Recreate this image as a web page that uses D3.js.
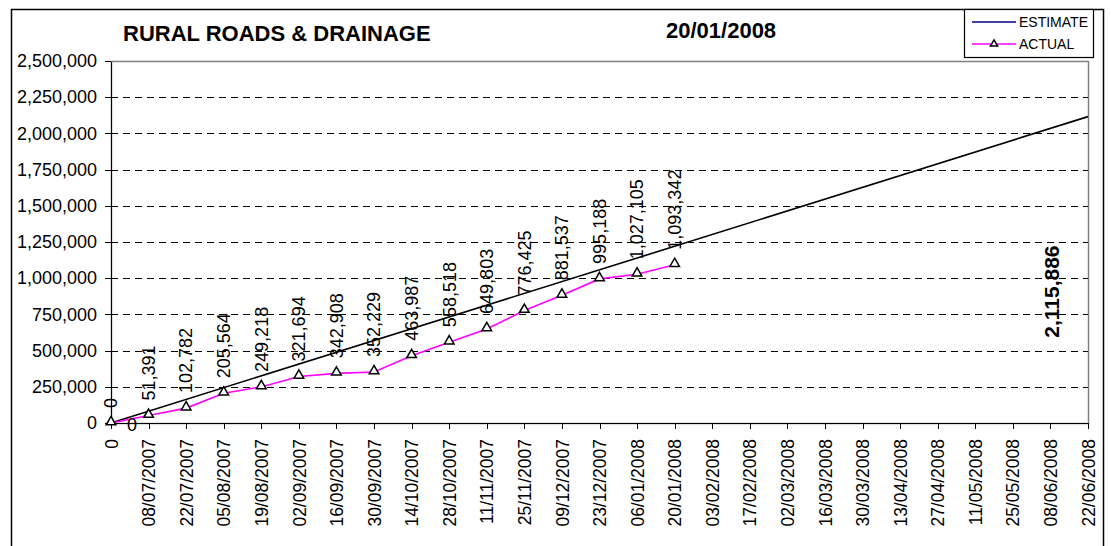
<!DOCTYPE html>
<meta charset="utf-8">
<style>
  body { margin: 0; background: #fff; }
  svg text { font-family: "Liberation Sans", Arial, sans-serif; fill: #000; }
  .axis path, .axis line { stroke: #000; shape-rendering: crispEdges; }
</style>
<div class="chart"></div>
<script src="https://cdn.jsdelivr.net/npm/d3@7/dist/d3.min.js"></script>
<script>
  // category labels along the x axis (fortnightly dates)
  var dates = ["0","08/07/2007","22/07/2007","05/08/2007","19/08/2007","02/09/2007","16/09/2007",
    "30/09/2007","14/10/2007","28/10/2007","11/11/2007","25/11/2007","09/12/2007","23/12/2007",
    "06/01/2008","20/01/2008","03/02/2008","17/02/2008","02/03/2008","16/03/2008","30/03/2008",
    "13/04/2008","27/04/2008","11/05/2008","25/05/2008","08/06/2008","22/06/2008"];

  // actual cumulative spend, one per date up to 20/01/2008
  var actual = [0, 51391, 102782, 205564, 249218, 321694, 342908, 352229, 463987,
    558518, 649803, 776425, 881537, 995188, 1027105, 1093342];

  // estimate: straight line from first to last date
  var estimateDates = ["0", "22/06/2008"];
  var estimate = [0, 2115886];

  var yTicks = [0, 250000, 500000, 750000, 1000000, 1250000, 1500000, 1750000, 2000000, 2250000, 2500000];

  var W = 1111, H = 546;
  var plot = {left: 111, right: 1088, top: 61, bottom: 423};
  var fmt = d3.format(",");

  var svg = d3.select(".chart").append("svg")
    .attr("width", W).attr("height", H);

  svg.append("rect").attr("width", W).attr("height", H).attr("fill", "#fff");

  // outer chart frame
  svg.append("rect")
    .attr("x", 11.5).attr("y", 9.5)
    .attr("width", 1103 - 11).attr("height", 600)
    .attr("fill", "none").attr("stroke", "#000").attr("stroke-width", 1.5);

  var x = d3.scalePoint().domain(dates).range([plot.left, plot.right]);
  var y = d3.scaleLinear().domain([0, 2500000]).range([plot.bottom, plot.top]);

  // plot area border (grey)
  svg.append("rect")
    .attr("x", plot.left + 0.5).attr("y", plot.top + 0.5)
    .attr("width", plot.right - plot.left).attr("height", plot.bottom - plot.top)
    .attr("fill", "none").attr("stroke", "#808080").attr("stroke-width", 1.5);

  // dashed gridlines
  svg.append("g").selectAll("line")
    .data(yTicks.filter(function(d){ return d > 0 && d < 2500000; }))
    .enter().append("line")
    .attr("x1", plot.left).attr("x2", plot.right)
    .attr("y1", function(d){ return Math.round(y(d)) + 0.5; })
    .attr("y2", function(d){ return Math.round(y(d)) + 0.5; })
    .attr("stroke", "#000").attr("stroke-dasharray", "7,5");

  // y axis
  var yAxis = svg.append("g").attr("class", "axis")
    .attr("transform", "translate(" + plot.left + ",0)")
    .call(d3.axisLeft(y).tickValues(yTicks).tickFormat(fmt).tickSize(6).tickSizeOuter(0).tickPadding(8));
  yAxis.select(".domain").attr("stroke-width", 1.5);
  yAxis.selectAll("text").attr("font-size", "18px");

  // x axis
  var xAxis = svg.append("g").attr("class", "axis")
    .attr("transform", "translate(0," + plot.bottom + ")")
    .call(d3.axisBottom(x).tickSize(6).tickSizeOuter(0));
  xAxis.select(".domain").attr("stroke-width", 1.5);
  xAxis.selectAll("text")
    .attr("font-size", "17.5px")
    .attr("text-anchor", "end")
    .attr("transform", "rotate(-90)")
    .attr("x", -16).attr("y", 0).attr("dy", "0.35em");

  // estimate line
  var estPts = estimateDates.map(function(d, i){ return [x(d), y(estimate[i])]; });
  svg.append("path")
    .attr("d", d3.line()(estPts))
    .attr("fill", "none").attr("stroke", "#000").attr("stroke-width", 1.6);

  // actual line
  var actPts = actual.map(function(v, i){ return [x(dates[i]), y(v)]; });
  svg.append("path")
    .attr("d", d3.line()(actPts))
    .attr("fill", "none").attr("stroke", "#ff00ff").attr("stroke-width", 1.6);

  var tri = d3.symbol().type(d3.symbolTriangle).size(40);
  svg.append("g").selectAll("path")
    .data(actPts).enter().append("path")
    .attr("d", tri())
    .attr("transform", function(d){ return "translate(" + d[0] + "," + (d[1] - 1) + ")"; })
    .attr("fill", "#fff").attr("stroke", "#000").attr("stroke-width", 1.5);

  // actual data labels
  svg.append("g").selectAll("text")
    .data(actual).enter().append("text")
    .attr("transform", function(d, i){ return "translate(" + x(dates[i]) + "," + (y(d) - 15) + ") rotate(-90)"; })
    .attr("dy", "0.35em")
    .attr("font-size", "18px")
    .text(function(d){ return fmt(d); });

  // estimate data labels
  svg.append("text")
    .attr("x", x(estimateDates[0]) + 21).attr("y", y(estimate[0]) + 2)
    .attr("dy", "0.35em").attr("text-anchor", "middle")
    .attr("font-size", "18px")
    .text(fmt(estimate[0]));
  svg.append("text")
    .attr("transform", "translate(" + (x(estimateDates[1]) - 36) + "," + (y(estimate[1]) + 175) + ") rotate(-90)")
    .attr("dy", "0.35em").attr("text-anchor", "middle")
    .attr("font-size", "21px").attr("font-weight", "bold")
    .text(fmt(estimate[1]));

  // titles
  svg.append("text").attr("x", 123).attr("y", 41)
    .attr("font-size", "22px").attr("font-weight", "bold")
    .text("RURAL ROADS & DRAINAGE");
  svg.append("text").attr("x", 666).attr("y", 38)
    .attr("font-size", "22px").attr("font-weight", "bold")
    .text("20/01/2008");

  // legend
  var lg = svg.append("g");
  lg.append("rect").attr("x", 964.5).attr("y", 9.5).attr("width", 129).attr("height", 48)
    .attr("fill", "#fff").attr("stroke", "#000").attr("stroke-width", 1.2);
  lg.append("line").attr("x1", 972).attr("x2", 1016).attr("y1", 22).attr("y2", 22)
    .attr("stroke", "#000080").attr("stroke-width", 1.6);
  lg.append("text").attr("x", 1019).attr("y", 27).attr("font-size", "14px").text("ESTIMATE");
  lg.append("line").attr("x1", 972).attr("x2", 1016).attr("y1", 44).attr("y2", 44)
    .attr("stroke", "#ff00ff").attr("stroke-width", 1.6);
  lg.append("path").attr("d", d3.symbol().type(d3.symbolTriangle).size(22)())
    .attr("transform", "translate(994,44)")
    .attr("fill", "#fff").attr("stroke", "#000").attr("stroke-width", 1.5);
  lg.append("text").attr("x", 1019).attr("y", 49).attr("font-size", "14px").text("ACTUAL");
</script>
